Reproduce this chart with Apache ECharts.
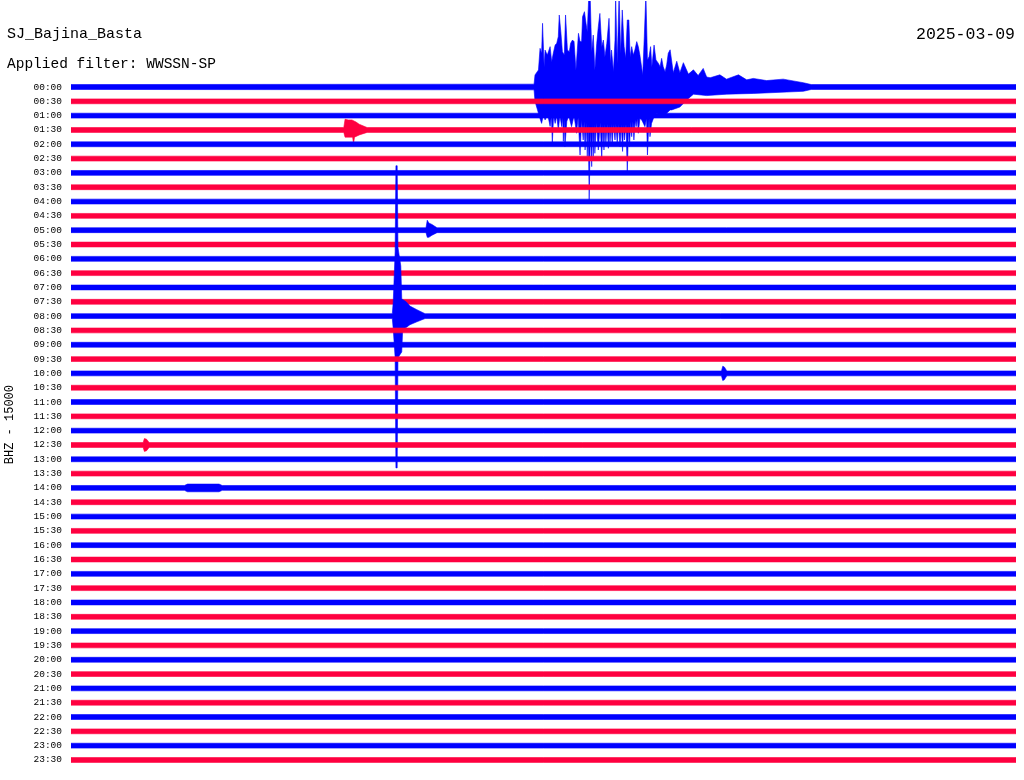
<!DOCTYPE html>
<html>
<head>
<meta charset="utf-8">
<script src="https://cdn.jsdelivr.net/npm/echarts@6/dist/echarts.min.js"></script>
<style>
html,body{margin:0;padding:0;background:#fff;}
#chart{width:1024px;height:780px;}
</style>
</head>
<body>
<div id="chart"></div>
<script>
// ---- tick labels (one per helicorder line, 30 minutes each) ----
const timeLabels = ['00:00','00:30','01:00','01:30','02:00','02:30','03:00','03:30','04:00','04:30','05:00','05:30',
  '06:00','06:30','07:00','07:30','08:00','08:30','09:00','09:30','10:00','10:30','11:00','11:30',
  '12:00','12:30','13:00','13:30','14:00','14:30','15:00','15:30','16:00','16:30','17:00','17:30',
  '18:00','18:30','19:00','19:30','20:00','20:30','21:00','21:30','22:00','22:30','23:00','23:30'];

// background noise half-amplitude for every line (in line-spacing units)
const noiseAmp = [0.17,0.17,0.17,0.17,0.17,0.17,0.17,0.17,0.17,0.17,0.17,0.17,
  0.17,0.17,0.17,0.17,0.17,0.17,0.17,0.17,0.17,0.17,0.17,0.17,
  0.17,0.17,0.17,0.17,0.17,0.17,0.17,0.17,0.17,0.17,0.17,0.17,
  0.17,0.17,0.17,0.17,0.17,0.17,0.17,0.17,0.17,0.17,0.17,0.17];

// envelopes of signals: [minute within line, amplitude in line-spacing units]
// large earthquake on line 00:00
const quakeUpper = [[14.70,0.2],[14.73,0.84],[14.84,1.19],[14.89,2.70],[14.94,2.35],[14.97,4.45],[15.02,1.42],[15.05,2.58],[15.12,2.23],[15.21,2.82],[15.26,1.77],[15.31,2.35],[15.37,2.93],[15.42,3.05],[15.47,3.52],[15.50,5.03],[15.55,3.86],[15.60,2.47],[15.66,2.23],[15.70,5.03],[15.76,2.58],[15.82,2.47],[15.86,3.05],[15.92,3.28],[15.97,3.17],[16.03,1.19],[16.11,3.75],[16.16,3.17],[16.21,3.17],[16.24,4.91],[16.30,5.26],[16.35,4.45],[16.39,3.86],[16.44,6.5],[16.48,6.5],[16.53,2.47],[16.58,3.63],[16.63,1.19],[16.69,3.05],[16.74,4.21],[16.79,5.14],[16.85,2.82],[16.90,3.28],[16.95,2.12],[17.01,3.05],[17.08,4.80],[17.13,1.65],[17.16,2.58],[17.22,1.07],[17.27,3.28],[17.29,6.5],[17.34,1.65],[17.40,6.5],[17.45,2.35],[17.50,5.38],[17.56,2.82],[17.61,2.0],[17.66,4.68],[17.71,4.68],[17.75,2.12],[17.80,2.82],[17.85,2.23],[17.90,2.58],[17.96,3.17],[18.01,2.82],[18.06,2.23],[18.15,0.84],[18.20,3.52],[18.25,6.5],[18.30,1.89],[18.35,2.12],[18.40,2.82],[18.44,1.42],[18.51,2.93],[18.57,1.89],[18.65,1.65],[18.70,1.42],[18.75,2.0],[18.80,1.42],[18.86,1.07],[18.91,1.54],[18.96,2.35],[19.02,2.6],[19.12,1.0],[19.23,1.8],[19.33,1.0],[19.44,1.7],[19.60,0.9],[19.76,1.2],[19.91,0.8],[20.07,1.3],[20.18,0.7],[20.29,0.65],[20.60,0.85],[20.81,0.55],[21.19,0.85],[21.45,0.5],[21.66,0.6],[22.08,0.45],[22.61,0.55],[23.25,0.3],[23.50,0.17]];
const quakeLower = [[14.70,0.2],[14.73,1.0],[14.81,1.6],[14.87,2.07],[14.94,2.54],[15.00,1.9],[15.05,2.3],[15.13,1.9],[15.21,2.75],[15.25,2.0],[15.28,3.93],[15.32,2.0],[15.37,2.54],[15.42,2.0],[15.47,3.0],[15.52,2.0],[15.58,2.77],[15.61,2.1],[15.63,3.8],[15.66,2.2],[15.68,4.17],[15.74,2.4],[15.80,2.0],[15.89,2.77],[15.97,2.0],[16.05,3.23],[16.10,2.1],[16.16,4.75],[16.21,2.3],[16.26,3.7],[16.29,2.4],[16.32,4.4],[16.36,2.5],[16.39,4.86],[16.42,2.6],[16.45,7.89],[16.49,2.8],[16.53,5.56],[16.56,2.6],[16.58,4.86],[16.61,2.6],[16.63,4.63],[16.68,2.5],[16.74,4.4],[16.80,2.5],[16.85,5.1],[16.88,2.6],[16.92,4.4],[16.95,2.6],[16.98,3.93],[17.02,2.6],[17.06,4.28],[17.09,2.6],[17.11,3.93],[17.15,2.6],[17.18,4.05],[17.22,2.6],[17.27,3.7],[17.30,2.6],[17.34,3.93],[17.38,2.6],[17.43,4.17],[17.47,2.6],[17.51,4.5],[17.54,2.6],[17.57,3.7],[17.62,2.6],[17.66,6.0],[17.70,2.6],[17.73,4.17],[17.77,2.4],[17.80,3.47],[17.84,2.4],[17.87,3.7],[17.91,2.3],[17.94,2.77],[17.98,2.2],[18.01,3.23],[18.06,2.2],[18.12,2.3],[18.22,2.77],[18.27,2.2],[18.30,4.75],[18.35,2.2],[18.38,3.47],[18.43,2.54],[18.51,2.07],[18.59,1.84],[18.70,1.95],[18.80,2.07],[18.91,1.84],[19.02,1.6],[19.07,1.6],[19.33,1.4],[19.55,0.9],[19.76,0.5],[20.18,0.6],[20.82,0.5],[21.66,0.45],[22.72,0.35],[23.25,0.3],[23.50,0.17]];
// sharp impulse on line 08:00
const impulseUpper = [[10.20,0.17],[10.23,1.0],[10.29,4.5],[10.315,10.5],[10.355,10.5],[10.38,4.8],[10.47,3.5],[10.50,1.2],[10.64,1.0],[10.76,0.7],[10.98,0.45],[11.24,0.17]];
const impulseLower = [[10.20,0.17],[10.23,0.9],[10.29,2.9],[10.315,10.6],[10.355,10.6],[10.38,2.9],[10.50,2.5],[10.53,0.9],[10.64,0.8],[10.76,0.6],[10.98,0.4],[11.24,0.17]];
// small local events
const event0130Upper = [[8.66,0.17],[8.70,0.75],[8.80,0.7],[8.92,0.7],[9.05,0.55],[9.15,0.4],[9.40,0.17]];
const event0130Lower = [[8.66,0.17],[8.70,0.5],[8.94,0.5],[8.97,0.95],[9.00,0.5],[9.15,0.35],[9.40,0.17]];
const event0500Upper = [[11.27,0.17],[11.31,0.7],[11.36,0.5],[11.46,0.4],[11.62,0.17]];
const event0500Lower = [[11.27,0.17],[11.31,0.5],[11.36,0.5],[11.46,0.35],[11.62,0.17]];
const event1000Upper = [[20.65,0.17],[20.69,0.5],[20.74,0.45],[20.82,0.17]];
const event1000Lower = [[20.65,0.17],[20.69,0.5],[20.74,0.45],[20.82,0.17]];
const event1230Upper = [[2.29,0.17],[2.33,0.45],[2.40,0.4],[2.48,0.17]];
const event1230Lower = [[2.29,0.17],[2.33,0.45],[2.40,0.4],[2.48,0.17]];
const event1400Upper = [[3.60,0.17],[3.70,0.27],[4.70,0.27],[4.80,0.17]];
const event1400Lower = [[3.60,0.17],[3.70,0.27],[4.70,0.27],[4.80,0.17]];

// which line carries which signal
const signalLines = [0, 16, 3, 10, 20, 25, 28];
const signalUppers = [quakeUpper, impulseUpper, event0130Upper, event0500Upper, event1000Upper, event1230Upper, event1400Upper];
const signalLowers = [quakeLower, impulseLower, event0130Lower, event0500Lower, event1000Lower, event1230Lower, event1400Lower];

const lineMinutes = 30;
const blue = '#0000ff', red = '#ff0040';

function envelope(i, which) {
  const n = noiseAmp[i];
  const k = signalLines.indexOf(i);
  let pts = [[0, n]];
  if (k >= 0) pts = pts.concat(which === 'up' ? signalUppers[k] : signalLowers[k]);
  pts.push([lineMinutes, n]);
  return pts;
}

const chart = echarts.init(document.getElementById('chart'), null, {renderer: 'canvas'});
const option = {
  animation: false,
  backgroundColor: '#fff',
  title: [
    {text: 'SJ_Bajina_Basta', left: 2, top: 22, textStyle: {fontFamily: 'Liberation Mono', fontSize: 15, fontWeight: 'normal', color: '#000'}},
    {text: 'Applied filter: WWSSN-SP', left: 2, top: 52, textStyle: {fontFamily: 'Liberation Mono', fontSize: 14.5, fontWeight: 'normal', color: '#000'}},
    {text: '2025-03-09', right: 4, top: 21, textStyle: {fontFamily: 'Liberation Mono', fontSize: 16.5, fontWeight: 'normal', color: '#000'}}
  ],
  graphic: [{
    type: 'text', left: 4, top: 385, rotation: Math.PI / 2,
    style: {text: 'BHZ - 15000', fontFamily: 'Liberation Mono', fontSize: 12, fill: '#000'}
  }],
  grid: {left: 71, right: 8, top: 1.1, height: 773.2},
  xAxis: {type: 'value', min: 0, max: lineMinutes, show: false},
  yAxis: {
    type: 'value', inverse: true, min: -6, max: 48, interval: 1,
    axisLine: {show: false}, axisTick: {show: false}, splitLine: {show: false},
    axisLabel: {
      margin: 9, fontFamily: 'Liberation Mono', fontSize: 9.5, color: '#000',
      formatter: function (v) { return (v >= 0 && v < timeLabels.length && Math.round(v) === v) ? timeLabels[v] : ''; }
    }
  },
  series: [{
    type: 'custom',
    clip: true,
    data: timeLabels.map(function (_, i) { return [i]; }),
    renderItem: function (params, api) {
      const i = api.value(0);
      const up = envelope(i, 'up');
      const lo = envelope(i, 'lo');
      const pts = [];
      up.forEach(function (p) { pts.push(api.coord([p[0], i - p[1]])); });
      for (let j = lo.length - 1; j >= 0; j--) pts.push(api.coord([lo[j][0], i + lo[j][1]]));
      const c = i % 2 === 0 ? blue : red;
      return {type: 'polygon', shape: {points: pts}, style: {fill: c, stroke: c, lineWidth: 0.6}};
    }
  }]
};
chart.setOption(option);
</script>
</body>
</html>
